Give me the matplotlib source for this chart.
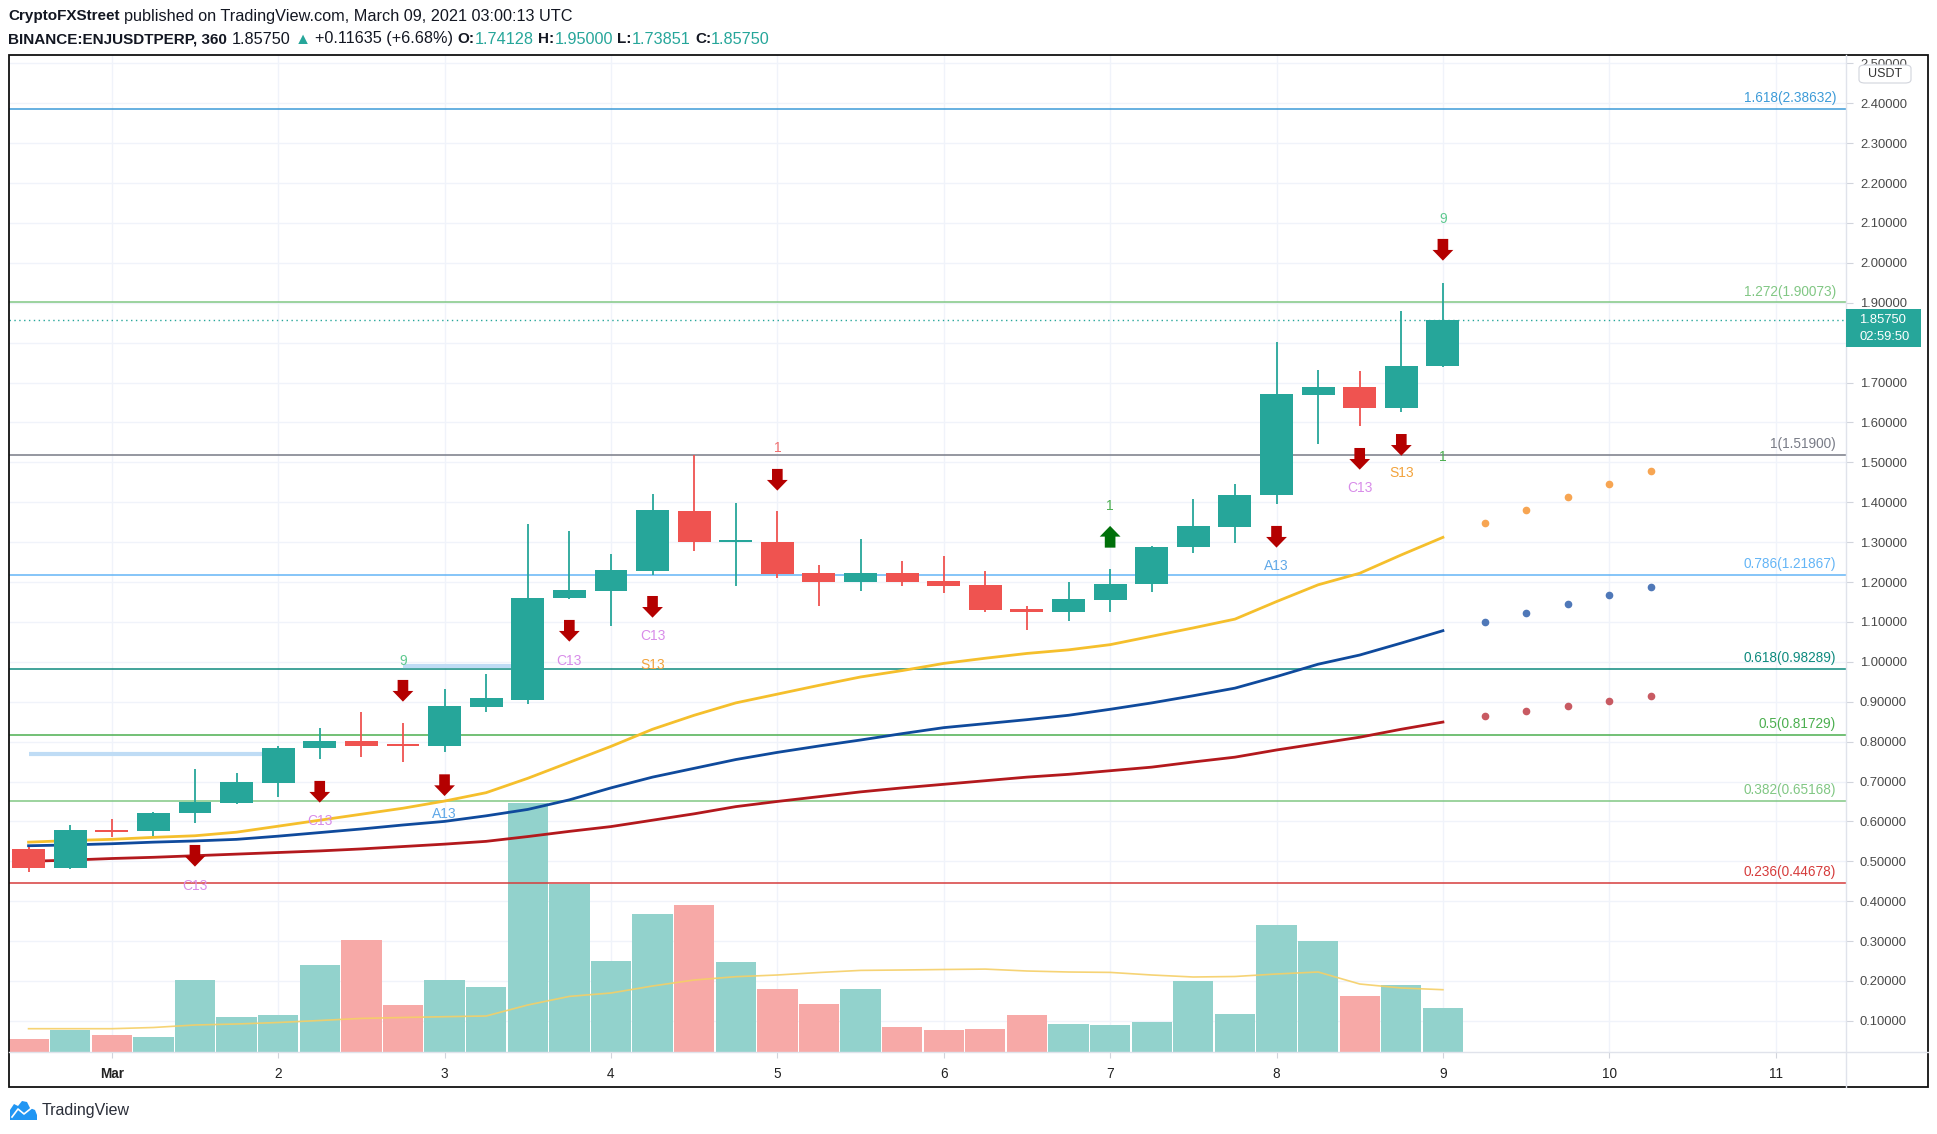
import numpy as np
import matplotlib
matplotlib.use("Agg")
import matplotlib.pyplot as plt
from matplotlib.patches import Rectangle, Polygon, FancyBboxPatch
from matplotlib.lines import Line2D

plt.rcParams['font.family'] = ['Liberation Sans', 'DejaVu Sans']

# ------------------------------------------------------------------ data
# 6h bars; index 0 = Feb 28 12:00 UTC, index 34 = Mar 9 00:00 UTC
bar_index = list(range(35))
opens = [0.531, 0.484, 0.577, 0.575, 0.620, 0.645, 0.697, 0.783, 0.802, 0.792,
         0.788, 0.888, 0.905, 1.160, 1.178, 1.228, 1.378, 1.301, 1.300, 1.222,
         1.199, 1.222, 1.203, 1.193, 1.133, 1.124, 1.156, 1.194, 1.287, 1.339,
         1.417, 1.670, 1.688, 1.637, 1.74128]
highs = [0.537, 0.591, 0.605, 0.624, 0.732, 0.721, 0.788, 0.834, 0.875, 0.846,
         0.931, 0.970, 1.346, 1.328, 1.271, 1.421, 1.519, 1.398, 1.379, 1.243,
         1.308, 1.253, 1.265, 1.228, 1.140, 1.200, 1.233, 1.290, 1.408, 1.446,
         1.801, 1.732, 1.729, 1.879, 1.95000]
lows = [0.474, 0.481, 0.562, 0.564, 0.597, 0.643, 0.660, 0.756, 0.761, 0.748,
        0.773, 0.874, 0.894, 1.157, 1.090, 1.218, 1.279, 1.189, 1.209, 1.141,
        1.178, 1.189, 1.173, 1.125, 1.080, 1.103, 1.125, 1.175, 1.274, 1.299,
        1.395, 1.547, 1.590, 1.627, 1.73851]
closes = [0.484, 0.579, 0.574, 0.621, 0.649, 0.699, 0.784, 0.802, 0.790, 0.789,
          0.890, 0.910, 1.160, 1.180, 1.230, 1.381, 1.300, 1.303, 1.220, 1.199,
          1.222, 1.199, 1.191, 1.131, 1.124, 1.158, 1.195, 1.288, 1.341, 1.418,
          1.671, 1.688, 1.637, 1.741, 1.85750]
volumes = [1.33, 2.23, 1.67, 1.47, 7.23, 3.53, 3.73, 8.73, 11.23, 4.73,
           7.23, 6.53, 24.95, 16.83, 9.13, 13.83, 14.73, 9.03, 6.33, 4.83,
           6.33, 2.53, 2.23, 2.33, 3.73, 2.83, 2.73, 3.03, 7.13, 3.83,
           12.73, 11.13, 5.63, 6.73, 4.43]
volume_ma = [2.33, 2.33, 2.33, 2.45, 2.70, 2.80, 2.95, 3.15, 3.36, 3.45,
             3.53, 3.60, 4.70, 5.56, 5.90, 6.60, 7.20, 7.53, 7.70, 7.95,
             8.16, 8.20, 8.25, 8.29, 8.10, 8.00, 7.96, 7.70, 7.50, 7.55,
             7.80, 8.00, 6.80, 6.40, 6.23]
ma_yellow = [0.548, 0.552, 0.555, 0.560, 0.564, 0.573, 0.588, 0.603, 0.618, 0.633,
             0.651, 0.672, 0.708, 0.748, 0.788, 0.831, 0.866, 0.897, 0.919, 0.941,
             0.962, 0.978, 0.996, 1.009, 1.021, 1.030, 1.043, 1.064, 1.085, 1.107,
             1.151, 1.193, 1.222, 1.268, 1.312]
ma_blue = [0.539, 0.541, 0.544, 0.548, 0.551, 0.555, 0.563, 0.572, 0.581, 0.591,
           0.600, 0.614, 0.630, 0.654, 0.684, 0.711, 0.733, 0.755, 0.773, 0.789,
           0.804, 0.820, 0.835, 0.845, 0.855, 0.866, 0.881, 0.897, 0.915, 0.934,
           0.963, 0.994, 1.017, 1.047, 1.078]
ma_red = [0.500, 0.503, 0.507, 0.510, 0.514, 0.518, 0.522, 0.526, 0.531, 0.537,
          0.543, 0.550, 0.562, 0.575, 0.587, 0.603, 0.619, 0.637, 0.650, 0.662,
          0.674, 0.684, 0.693, 0.702, 0.711, 0.718, 0.727, 0.736, 0.749, 0.761,
          0.779, 0.795, 0.811, 0.831, 0.849]
proj_index = [35, 36, 37, 38, 39]
proj_yellow = [1.347, 1.380, 1.413, 1.445, 1.478]
proj_blue = [1.099, 1.122, 1.144, 1.167, 1.187]
proj_red = [0.864, 0.876, 0.889, 0.901, 0.914]

fib_ratio = ['1.618', '1.272', '1', '0.786', '0.618', '0.5', '0.382', '0.236']
fib_price = [2.38632, 1.90073, 1.51900, 1.21867, 0.98289, 0.81729, 0.65168, 0.44678]

day_ticks = [2, 6, 10, 14, 18, 22, 26, 30, 34, 38, 42]
day_labels = ['Mar', '2', '3', '4', '5', '6', '7', '8', '9', '10', '11']
price_ticks = [round(0.1 * k, 1) for k in range(1, 26)]
hidden_price_labels = [1.8]   # covered by the last-price tag

sell_arrow_index = [4, 7, 9, 10, 13, 15, 18, 30, 32, 33, 34]
sell_arrow_top = [0.541, 0.7015, 0.9546, 0.718, 1.105, 1.165, 1.4835, 1.3406, 1.536, 1.571, 2.060]
buy_arrow_index = [26]
buy_arrow_tip = [1.3406]

label_index = [4, 7, 9, 10, 13, 15, 15, 18, 26, 30, 32, 33, 34, 34]
label_price = [0.438, 0.600, 1.003, 0.618, 1.003, 1.065, 0.993, 1.535, 1.390, 1.240, 1.435, 1.473, 2.110, 1.513]
label_text = ['C13', 'C13', '9', 'A13', 'C13', 'C13', 'S13', '1', '1', 'A13', 'C13', 'S13', '9', '1']
label_kind = ['C', 'C', 'G9', 'A', 'C', 'C', 'S', 'R1', 'G1', 'A', 'C', 'S', 'G9', 'G1']

tdst_start = [0.0, 9.0]
tdst_end = [5.6, 11.65]
tdst_price = [0.7683, 0.9897]

# ------------------------------------------------------------------ style
W, H = 1937, 1134
TEAL, RED = '#26a69a', '#ef5350'
VTEAL, VRED = '#92d2cc', '#f7a9a7'
fib_color = ['#3d9bd8', '#81c784', '#787b86', '#64b5f6', '#0e8a7e', '#4caf50', '#81c784', '#d63c3c']
label_color = {'C': '#d88ce9', 'A': '#5fa8e8', 'S': '#f2a33c', 'G9': '#5ec98f',
               'R1': '#ef6f6f', 'G1': '#4caf50'}

fig = plt.figure(figsize=(W / 100, H / 100), dpi=100)
fig.patch.set_facecolor('white')

L, R, T, B = 9, 1846, 55, 1052
ax = fig.add_axes([L / W, 1 - B / H, (R - L) / W, (B - T) / H])
ax.set_facecolor('white')
ax.set_xlim(-0.47, 43.69)
ax.set_ylim(0.022, 2.521)
VOL_TOP = 99.7

for s in ax.spines.values():
    s.set_visible(False)

# grid / ticks
ax.set_yticks(price_ticks)
ax.set_yticklabels(['' if v in hidden_price_labels else f'{v:.5f}' for v in price_ticks])
ax.set_xticks(day_ticks)
ax.set_xticklabels(day_labels)
ax.grid(True, color='#f0f3fa', lw=1.0, zorder=0)
ax.set_axisbelow(True)
ax.yaxis.tick_right()
ax.tick_params(axis='y', length=5, width=0.8, color='#d1d4dc', labelsize=9.4,
               labelcolor='#4a4a4a', pad=5)
ax.tick_params(axis='x', length=4, width=0.8, color='#d1d4dc', labelsize=9.8,
               labelcolor='#222222', pad=7)
ax.get_xticklabels()[0].set_fontweight('bold')

# volume (bottom overlay, axes-fraction heights)
xt = ax.get_xaxis_transform()
vcols = [VTEAL if c >= o else VRED for o, c in zip(opens, closes)]
ax.bar(bar_index, [v / VOL_TOP for v in volumes], width=0.97, color=vcols,
       transform=xt, zorder=1, linewidth=0)
ax.plot(bar_index, [v / VOL_TOP for v in volume_ma], color='#f5cf66', lw=1.2,
        transform=xt, zorder=1.5, alpha=0.9)

# fib levels
for r, p, c in zip(fib_ratio, fib_price, fib_color):
    ax.axhline(p, color=c, lw=1.1, zorder=2)
    ax.annotate(f'{r}({p:.5f})', xy=(0.9946, p), xycoords=('axes fraction', 'data'),
                xytext=(0, 2.5), textcoords='offset points', ha='right', va='bottom',
                fontsize=9.8, color=c, zorder=2)

# last price dotted
ax.axhline(closes[-1], color=TEAL, lw=1.0, ls=(0, (1, 2.5)), zorder=2)

# TDST segments
ax.hlines(tdst_price, tdst_start, tdst_end, color='#bfdcf5', lw=3, zorder=2)

# moving averages
ax.plot(bar_index, ma_yellow, color='#f5bf2c', lw=2.0, zorder=3)
ax.plot(bar_index, ma_blue, color='#0f4a9c', lw=2.0, zorder=3)
ax.plot(bar_index, ma_red, color='#b3191d', lw=2.0, zorder=3)
ax.plot(proj_index, proj_yellow, 'o', color='#f7a552', ms=4.5, zorder=3)
ax.plot(proj_index, proj_blue, 'o', color='#4f78b8', ms=4.5, zorder=3)
ax.plot(proj_index, proj_red, 'o', color='#c85a62', ms=4.5, zorder=3)

# candles
ccols = [TEAL if c >= o else RED for o, c in zip(opens, closes)]
ax.vlines(bar_index, lows, highs, colors=ccols, lw=1.3, zorder=4)
bottoms = [min(o, c) for o, c in zip(opens, closes)]
heights = [max(abs(c - o), 0.005) for o, c in zip(opens, closes)]
ax.bar(bar_index, heights, bottom=bottoms, width=0.79, color=ccols, zorder=5, linewidth=0)

# arrows
HW, SW, SH, HH = 0.25, 0.128, 0.0276, 0.0268
for i, top in zip(sell_arrow_index, sell_arrow_top):
    v = [(i - SW, top), (i + SW, top), (i + SW, top - SH), (i + HW, top - SH),
         (i, top - SH - HH), (i - HW, top - SH), (i - SW, top - SH)]
    ax.add_patch(Polygon(v, closed=True, fc='#b40000', ec='none', zorder=6))
for i, tip in zip(buy_arrow_index, buy_arrow_tip):
    base = tip - SH - HH
    v = [(i - SW, base), (i + SW, base), (i + SW, base + SH), (i + HW, base + SH),
         (i, tip), (i - HW, base + SH), (i - SW, base + SH)]
    ax.add_patch(Polygon(v, closed=True, fc='#00700a', ec='none', zorder=6))

for i, p, s, k in zip(label_index, label_price, label_text, label_kind):
    ax.text(i, p, s, ha='center', va='center', fontsize=10, color=label_color[k], zorder=6)

# ------------------------------------------------------------------ frame & UI
def fx(px):
    return px / W


def fy(py):
    return 1 - py / H


fig.add_artist(Line2D([fx(R), fx(R)], [fy(T), fy(1087)], color='#e0e3eb', lw=1.0))
fig.add_artist(Line2D([fx(L), fx(1928)], [fy(B), fy(B)], color='#e0e3eb', lw=1.0))
fig.add_artist(Rectangle((fx(L), fy(1087)), fx(1928) - fx(L), fy(T) - fy(1087),
                         fill=False, ec='#111111', lw=1.3, transform=fig.transFigure))

# last price tag
fig.add_artist(Rectangle((fx(1846), fy(347)), fx(1921) - fx(1846), fy(309) - fy(347),
                         fc=TEAL, ec='none', transform=fig.transFigure, zorder=5))
fig.text(fx(1859), fy(320), f'{closes[-1]:.5f}', color='white', fontsize=9.4, va='center', zorder=6)
fig.text(fx(1859), fy(337), '02:59:50', color='white', fontsize=9.4, va='center', zorder=6)

# USDT box
fig.add_artist(FancyBboxPatch((fx(1859), fy(83)), fx(1911) - fx(1859), fy(65) - fy(83),
                              boxstyle='round,pad=0.0,rounding_size=0.003', fc='white',
                              ec='#d1d4dc', lw=0.8, transform=fig.transFigure, zorder=5))
fig.text(fx(1885), fy(74), 'USDT', color='#333333', fontsize=9, ha='center', va='center', zorder=6)

# header
renderer = fig.canvas.get_renderer()


def seq_text(x_px, y_px, parts):
    x = x_px
    for s, color, weight, size, gap in parts:
        t = fig.text(fx(x), fy(y_px), s, color=color, fontweight=weight, fontsize=size,
                     ha='left', va='center')
        x += t.get_window_extent(renderer=renderer).width + gap


DARK = '#131722'
SP = 4.5
BS, NS = 11, 11.7
seq_text(8, 16, [('CryptoFXStreet', DARK, 'bold', BS, SP),
                 ('published on TradingView.com, March 09, 2021 03:00:13 UTC', DARK, 'normal', NS, 0)])
seq_text(8, 39, [('BINANCE:ENJUSDTPERP, 360', DARK, 'bold', BS, SP),
                 (f'{closes[-1]:.5f}', DARK, 'normal', NS, SP),
                 ('▲', TEAL, 'normal', NS, SP),
                 ('+0.11635 (+6.68%)', DARK, 'normal', NS, SP),
                 ('O:', DARK, 'bold', BS, 0), (f'{opens[-1]:.5f}', TEAL, 'normal', NS, SP),
                 ('H:', DARK, 'bold', BS, 0), (f'{highs[-1]:.5f}', TEAL, 'normal', NS, SP),
                 ('L:', DARK, 'bold', BS, 0), (f'{lows[-1]:.5f}', TEAL, 'normal', NS, SP),
                 ('C:', DARK, 'bold', BS, 0), (f'{closes[-1]:.5f}', TEAL, 'normal', NS, 0)])

# TradingView logo
logo = [(10, 1120), (10, 1110), (14, 1104), (18, 1106), (22, 1101), (27, 1102),
        (30, 1108), (35, 1110), (37, 1115), (37, 1120)]
fig.add_artist(Polygon([(fx(a), fy(b)) for a, b in logo], closed=True, fc='#2196f3',
                       ec='none', transform=fig.transFigure))
fig.add_artist(Line2D([fx(12), fx(18), fx(24), fx(34)], [fy(1117), fy(1109), fy(1114), fy(1106)],
                      color='white', lw=1.2))
fig.text(fx(42), fy(1111), 'TradingView', color='#2a2e39', fontsize=11.5, va='center')

fig.savefig('out.png', dpi=100, facecolor='white')
